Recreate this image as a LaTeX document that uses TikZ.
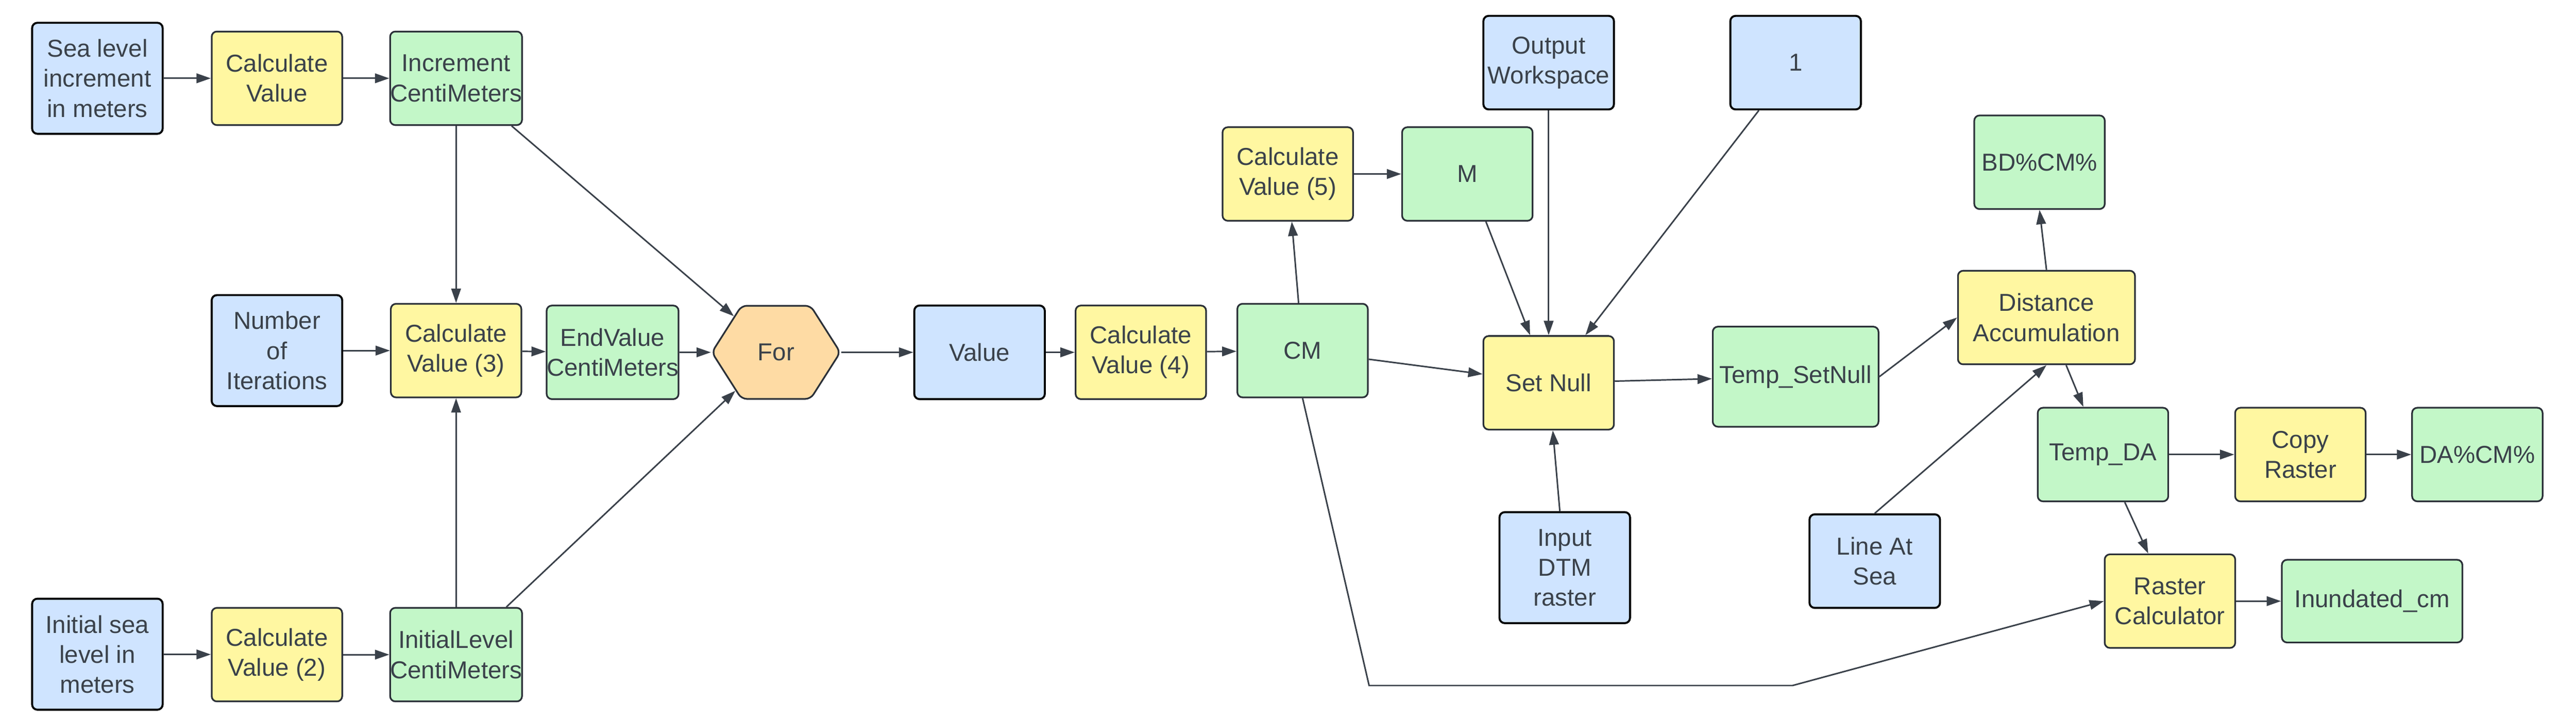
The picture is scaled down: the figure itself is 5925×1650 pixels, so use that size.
\documentclass[tikz,border=0pt]{standalone}
\usepackage{fontspec}
\setmainfont{Liberation Sans}
\usepackage{xcolor}
\usetikzlibrary{arrows.meta,shapes.symbols}
\definecolor{inblue}{HTML}{CFE4FF}
\definecolor{toolyel}{HTML}{FFF7A1}
\definecolor{datagrn}{HTML}{C3F7C8}
\definecolor{looporg}{HTML}{FEDBA4}
\definecolor{ink}{HTML}{3A414A}
\definecolor{rim}{HTML}{2B3038}
\tikzset{%
  tipA/.tip={Triangle[length=0.33cm,width=0.22cm]},
  blk/.style={rectangle, rounded corners=0.12cm, minimum width=3cm, minimum height=2.15cm,
    inner xsep=0pt, align=center, text=ink, line width=1.1pt,
    font=\fontsize{16}{19.6}\selectfont},
  inp/.style={blk, fill=inblue, draw=black, line width=1.3pt},
  inptall/.style={inp, minimum height=2.55cm},
  tool/.style={blk, fill=toolyel, draw=rim},
  dat/.style={blk, fill=datagrn, draw=rim},
  forhex/.style={blk, signal, signal to=east and west, signal pointer angle=115,
    fill=looporg, draw=rim, minimum width=2.95cm, minimum height=2.14cm},
  flow/.style={draw=ink, line width=1pt, -tipA}
}

\begin{document}
\begin{tikzpicture}[x=0.01cm,y=-0.01cm]
\useasboundingbox (0,0) rectangle (5925,1650);
% left part
\node[inptall] (slinc) at (224,180) {Sea level\\increment\\in meters};
\node[tool] (cv1) at (637,180) {Calculate\\Value};
\node[dat] (incr) at (1049,180) {Increment\\CentiMeters};
\node[inptall] (niter) at (637,806) {Number\\of\\Iterations};
\node[tool] (cv3) at (1049,806) {Calculate\\Value (3)};
\node[dat] (endv) at (1409,810) {EndValue\\CentiMeters};
\node[forhex] (for) at (1785,810) {For};
\node[inptall] (islv) at (224,1504) {Initial sea\\level in\\meters};
\node[tool] (cv2) at (637,1505) {Calculate\\Value (2)};
\node[dat] (initl) at (1049,1505) {InitialLevel\\CentiMeters};
% middle part
\node[inp] (value) at (2253,810) {Value};
\node[tool] (cv4) at (2624,810) {Calculate\\Value (4)};
\node[dat] (cm) at (2996,806) {CM};
\node[tool] (cv5) at (2962,400) {Calculate\\Value (5)};
\node[dat] (m) at (3375,400) {M};
\node[inp] (outws) at (3562,144) {Output\\Workspace};
\node[inp] (one) at (4130,144) {1};
\node[tool] (setnull) at (3562,880) {Set Null};
\node[inptall] (dtm) at (3599,1305) {Input\\DTM\\raster};
% right part
\node[dat, minimum width=3.81cm, minimum height=2.3cm] (tsn) at (4130,866) {Temp\_SetNull};
\node[tool, minimum width=4.07cm] (distacc) at (4707,730) {Distance\\Accumulation};
\node[dat] (bd) at (4691,373) {BD\%CM\%};
\node[dat] (tda) at (4837,1045) {Temp\_DA};
\node[tool] (copy) at (5291,1045) {Copy\\Raster};
\node[dat] (da) at (5698,1045) {DA\%CM\%};
\node[inp] (lineatsea) at (4312,1290) {Line At\\Sea};
\node[tool] (rcalc) at (4991,1382) {Raster\\Calculator};
\node[dat, minimum width=4.15cm, minimum height=1.9cm] (inund) at (5456,1382) {Inundated\_cm};
\coordinate (bendA) at (3149,1576);
\coordinate (bendB) at (4123,1576);
% connectors
\draw[flow] (slinc) -- (cv1);
\draw[flow] (cv1) -- (incr);
\draw[flow] (incr) -- (cv3);
\draw[flow] (incr) -- (for);
\draw[flow] (niter) -- (cv3);
\draw[flow] (cv3) -- (endv);
\draw[flow] (endv) -- (for);
\draw[flow] (islv) -- (cv2);
\draw[flow] (cv2) -- (initl);
\draw[flow] (initl) -- (cv3);
\draw[flow] (initl) -- (for);
\draw[flow] (for) -- (value);
\draw[flow] (value) -- (cv4);
\draw[flow] (cv4) -- (cm);
\draw[flow] (cm) -- (cv5);
\draw[flow] (cv5) -- (m);
\draw[flow] (m) -- (setnull);
\draw[flow] (outws) -- (setnull);
\draw[flow] (one) -- (setnull);
\draw[flow] (cm) -- (setnull);
\draw[flow] (dtm) -- (setnull);
\draw[flow] (setnull) -- (tsn);
\draw[flow] (tsn.east) -- (distacc.west);
\draw[flow] (lineatsea.north) -- (distacc.south);
\draw[flow] (distacc.north) -- (bd.south);
\draw[flow] (distacc) -- (tda);
\draw[flow] (tda) -- (copy);
\draw[flow] (copy) -- (da);
\draw[flow] (tda) -- (rcalc);
\draw[flow] (rcalc) -- (inund);
\draw[flow] (cm.south) -- (bendA) -- (bendB) -- (rcalc.west);
\end{tikzpicture}
\end{document}
